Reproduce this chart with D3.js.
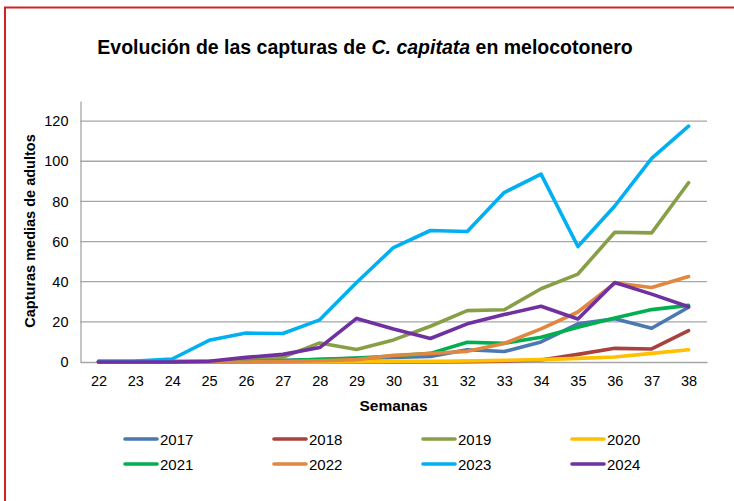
<!DOCTYPE html>
<html>
<head>
<meta charset="utf-8">
<script src="https://cdn.jsdelivr.net/npm/d3@7"></script>
<style>
  body { margin: 0; background: #fff; }
  svg { display: block; font-family: "Liberation Sans", Arial, sans-serif; }
</style>
</head>
<body>
<div id="chart-area"></div>
<script>
// Data
const weeks = [22, 23, 24, 25, 26, 27, 28, 29, 30, 31, 32, 33, 34, 35, 36, 37, 38];
const years = ['2017', '2018', '2019', '2020', '2021', '2022', '2023', '2024'];
const y2017 = [0.3, 0.3, 0.3, 0.3, 0.5, 0.8, 1.2, 1.8, 2.3, 2.8, 6.1, 5.2, 10, 19, 21.5, 16.8, 27.3];
const y2018 = [0, 0, 0, 0, 0, 0, 0, 0, 0, 0, 0.2, 0.4, 1, 3.8, 6.8, 6.5, 15.6];
const y2019 = [0, 0, 0, 0, 0.8, 2.3, 9.5, 6.2, 11, 17.8, 25.6, 26, 36.5, 43.8, 64.6, 64.3, 89.3];
const y2020 = [0, 0, 0, 0, 0, 0, 0, 0.2, 0.3, 0.3, 0.5, 0.8, 1.2, 1.8, 2.5, 4.3, 6.1];
const y2021 = [0, 0, 0, 0, 0.3, 0.6, 1.3, 2, 3, 4.3, 9.8, 9.3, 12.3, 17.3, 21.9, 26.1, 28.2];
const y2022 = [0, 0, 0, 0, 0, 0.2, 0.6, 1.2, 3.3, 4.2, 5.3, 9.2, 16.5, 24.9, 39.3, 37.1, 42.6];
const y2023 = [0.3, 0.5, 1.5, 10.8, 14.4, 14.2, 21, 39.6, 57, 65.5, 65, 84.4, 93.6, 57.5, 77.7, 101.4, 117.5];
const y2024 = [0, 0, 0, 0.4, 2.3, 3.8, 7.2, 21.7, 16.4, 11.7, 19, 23.6, 27.8, 21.4, 39.6, 33.8, 27.5];
const yTicks = [0, 20, 40, 60, 80, 100, 120];

const seriesValues = [y2017, y2018, y2019, y2020, y2021, y2022, y2023, y2024];
const colors = ['#4a78b0', '#a9413c', '#87a048', '#ffc000', '#00b050', '#e08840', '#00b0f0', '#7030a0'];

const W = 734, H = 501;
const plot = { left: 80, right: 707, top: 101, bottom: 362 };

const svg = d3.select('#chart-area')
    .append('svg')
    .attr('width', W)
    .attr('height', H);

// Red frame (runs off the right and bottom edges)
svg.append('rect')
    .attr('x', 5)
    .attr('y', 7.5)
    .attr('width', 800)
    .attr('height', 600)
    .attr('fill', 'none')
    .attr('stroke', '#d02424')
    .attr('stroke-width', 2);

// Title
const title = svg.append('text')
    .attr('x', 365)
    .attr('y', 54)
    .attr('text-anchor', 'middle')
    .attr('font-size', '19.5px')
    .attr('font-weight', 'bold')
    .attr('fill', '#000');
title.append('tspan').text('Evolución de las capturas de ');
title.append('tspan').attr('font-style', 'italic').text('C. capitata');
title.append('tspan').text(' en melocotonero');

// Scales
const x = d3.scalePoint()
    .domain(weeks)
    .range([plot.left, plot.right])
    .padding(0.5);

const y = d3.scaleLinear()
    .domain([0, 130])
    .range([plot.bottom, plot.top]);

// Gridlines
svg.append('g')
    .selectAll('line')
    .data(yTicks.filter((d) => d > 0))
    .enter()
    .append('line')
    .attr('x1', plot.left)
    .attr('x2', plot.right)
    .attr('y1', (d) => y(d))
    .attr('y2', (d) => y(d))
    .attr('stroke', '#a6a6a6')
    .attr('stroke-width', 1.3);

// Y axis
const yAxis = svg.append('g')
    .attr('transform', 'translate(' + (plot.left + 0.5) + ', 0)')
    .call(d3.axisLeft(y).tickValues(yTicks).tickSize(0).tickPadding(12));
yAxis.select('.domain').attr('stroke', '#a6a6a6').attr('stroke-width', 1.3);
yAxis.selectAll('text').attr('font-size', '14.5px').attr('fill', '#000')
    .attr('font-family', '"Liberation Sans", Arial, sans-serif');

// X axis
const xAxis = svg.append('g')
    .attr('transform', 'translate(0, ' + plot.bottom + ')')
    .call(d3.axisBottom(x).tickSize(0).tickPadding(14));
xAxis.select('.domain').attr('stroke', '#a6a6a6').attr('stroke-width', 1.3);
xAxis.selectAll('text').attr('font-size', '14.5px').attr('fill', '#000')
    .attr('font-family', '"Liberation Sans", Arial, sans-serif');

// Axis titles
svg.append('text')
    .attr('x', (plot.left + plot.right) / 2)
    .attr('y', 411)
    .attr('text-anchor', 'middle')
    .attr('font-size', '15.5px')
    .attr('font-weight', 'bold')
    .text('Semanas');

svg.append('text')
    .attr('transform', 'translate(35, 231) rotate(-90)')
    .attr('text-anchor', 'middle')
    .attr('font-size', '14.5px')
    .attr('font-weight', 'bold')
    .text('Capturas medias de adultos');

// Lines
const line = d3.line()
    .x((d, i) => x(weeks[i]))
    .y((d) => y(d));

svg.append('g')
    .selectAll('path')
    .data(seriesValues)
    .enter()
    .append('path')
    .attr('d', (d) => line(d))
    .attr('fill', 'none')
    .attr('stroke', (d, i) => colors[i])
    .attr('stroke-width', 3.6)
    .attr('stroke-linejoin', 'round')
    .attr('stroke-linecap', 'round');

// Legend
const legend = svg.append('g')
    .selectAll('g')
    .data(years)
    .enter()
    .append('g')
    .attr('transform', (d, i) => 'translate(' + (125 + (i % 4) * 149) + ', ' + (439 + Math.floor(i / 4) * 25) + ')');

legend.append('line')
    .attr('x1', 0)
    .attr('x2', 32)
    .attr('stroke', (d, i) => colors[i])
    .attr('stroke-width', 3.6)
    .attr('stroke-linecap', 'round');

legend.append('text')
    .attr('x', 35)
    .attr('y', 5.5)
    .attr('font-size', '15px')
    .text((d) => d);
</script>
</body>
</html>
